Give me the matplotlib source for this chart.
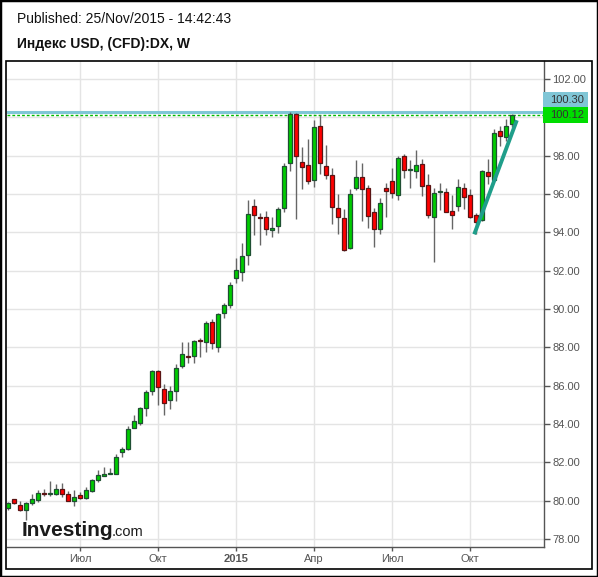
import numpy as np
import pandas as pd
import matplotlib
matplotlib.use('Agg')
import matplotlib.pyplot as plt
import matplotlib.transforms as mtransforms
from matplotlib.patches import Rectangle

plt.rcParams['font.family'] = ['Liberation Sans', 'DejaVu Sans']

# weekly candles, weeks start on Sunday
first_week = '2014-04-13'
opens = [79.60, 80.07, 79.76, 79.50, 79.86, 80.05, 80.40, 80.36, 80.36, 80.59,
         80.38, 80.00, 80.28, 80.15, 80.52, 81.09, 81.30, 81.42, 81.40, 82.55,
         82.70, 83.82, 84.08, 84.86, 85.74, 86.75, 85.85, 85.27, 85.74, 87.04,
         87.57, 87.57, 88.37, 88.29, 89.33, 88.01, 89.80, 90.22, 91.61, 91.92,
         92.80, 95.37, 94.80, 94.80, 94.10, 94.32, 95.27, 97.64, 100.17, 97.66,
         97.51, 96.73, 99.54, 97.46, 97.00, 95.27, 94.75, 93.19, 96.29, 96.88,
         96.31, 95.06, 94.18, 96.31, 96.67, 95.95, 97.98, 97.24, 97.20, 97.56,
         96.47, 94.79, 96.10, 96.09, 95.10, 95.36, 96.30, 95.93, 94.89, 94.63,
         97.13, 96.72, 99.27, 98.96, 99.64]
highs = [79.95, 80.10, 79.98, 79.95, 80.38, 80.55, 80.59, 81.02, 80.87, 80.92,
         80.50, 80.55, 80.45, 80.70, 81.16, 81.59, 81.77, 81.70, 82.46, 82.80,
         83.92, 84.46, 84.89, 85.76, 86.84, 86.82, 86.07, 85.97, 87.15, 88.26,
         88.29, 88.40, 88.47, 89.39, 89.49, 89.82, 90.32, 91.42, 92.67, 93.45,
         95.70, 95.74, 95.01, 95.12, 94.80, 95.34, 97.63, 100.30, 100.25, 98.46,
         98.88, 99.87, 100.11, 98.56, 97.35, 96.01, 95.22, 96.26, 97.78, 97.63,
         96.48, 95.29, 95.80, 96.57, 97.35, 97.99, 98.08, 97.77, 98.29, 97.82,
         97.04, 96.30, 96.56, 96.30, 95.95, 96.80, 96.56, 96.25, 95.00, 97.25,
         97.81, 99.38, 99.56, 99.91, 100.15]
lows = [79.50, 79.85, 79.45, 78.99, 79.80, 79.93, 80.25, 80.27, 80.30, 80.21,
        79.98, 79.74, 80.10, 80.10, 80.45, 81.00, 81.27, 81.38, 81.38, 82.29,
        82.64, 83.80, 83.96, 84.42, 85.51, 85.00, 84.47, 84.79, 85.20, 86.94,
        87.18, 87.18, 87.49, 87.75, 87.91, 87.75, 89.54, 90.06, 91.34, 91.45,
        92.28, 93.88, 93.32, 93.88, 93.74, 93.98, 95.04, 97.21, 94.68, 96.24,
        96.52, 96.39, 97.07, 96.81, 94.42, 93.90, 93.05, 93.15, 96.19, 94.57,
        94.21, 93.22, 93.90, 94.78, 95.82, 95.67, 96.86, 96.31, 96.83, 95.89,
        94.75, 92.45, 95.17, 95.05, 94.16, 95.13, 95.23, 94.75, 93.90, 94.60,
        96.51, 96.70, 98.49, 98.75, 99.51]
closes = [79.86, 79.88, 79.50, 79.91, 80.07, 80.40, 80.34, 80.40, 80.59, 80.36,
          80.00, 80.22, 80.15, 80.54, 81.06, 81.33, 81.38, 81.45, 82.31, 82.72,
          83.73, 84.18, 84.82, 85.70, 86.75, 85.93, 85.12, 85.74, 86.94, 87.67,
          87.50, 88.35, 88.33, 89.28, 88.24, 89.75, 90.22, 91.26, 92.04, 92.77,
          94.96, 94.90, 94.74, 94.16, 94.23, 95.22, 97.46, 100.20, 98.01, 97.40,
          96.67, 99.49, 97.61, 96.99, 95.32, 94.80, 93.08, 96.00, 96.88, 96.26,
          94.85, 94.18, 95.53, 96.15, 96.05, 97.87, 97.25, 97.29, 97.51, 96.41,
          94.90, 96.04, 96.15, 95.08, 94.92, 96.35, 95.86, 94.79, 94.52, 97.19,
          96.92, 99.17, 99.01, 99.53, 100.12]

resistance = 100.30
last_price = 100.12
# hand drawn trend line (candle index, price)
trend_x = [77.7, 84.8]
trend_y = [93.9, 99.85]
quarter_names = {4: 'Апр', 7: 'Июл', 10: 'Окт'}

dates = pd.date_range(first_week, periods=len(closes), freq='W-SUN')
x = np.arange(len(closes))
o = np.array(opens)
c = np.array(closes)

W, H = 598, 577
fig = plt.figure(figsize=(W / 100, H / 100), dpi=100)
ax = fig.add_axes([7 / W, 1 - 547 / H, 537 / W, 486 / H])
ax.set_xlim(-0.17, 89.33)
ax.set_ylim(77.59, 102.94)

# grid + axes
yt = np.arange(78, 103, 2)
ax.set_yticks(yt)
ax.set_yticklabels(['' if v == 100 else f'{v:.2f}' for v in yt])
ax.yaxis.tick_right()

tick_pos, tick_lab = [], []
for i in range(1, len(dates)):
    m = dates[i].month
    if m != dates[i - 1].month and m in (1, 4, 7, 10):
        tick_pos.append(i)
        tick_lab.append(str(dates[i].year) if m == 1 else quarter_names[m])
ax.set_xticks(tick_pos)
ax.set_xticklabels(tick_lab)
for lab in ax.get_xticklabels():
    if lab.get_text().isdigit():
        lab.set_fontweight('bold')
        lab.set_color('#444444')

ax.grid(True, color='#e4e4e4', lw=1)
ax.set_axisbelow(True)
for s in ['left', 'top']:
    ax.spines[s].set_visible(False)
for s in ['right', 'bottom']:
    ax.spines[s].set_color('#555555')
    ax.spines[s].set_linewidth(1)
ax.tick_params(axis='y', direction='out', length=4, width=1, color='#555555',
               labelsize=8, labelcolor='#555555', pad=2)
ax.tick_params(axis='x', direction='out', length=3, width=1, color='#555555',
               labelsize=8, labelcolor='#555555', pad=2)

# lines
ax.axhline(resistance, color='#80c6d6', lw=2.2, zorder=1.5)
ax.axhline(last_price, color='#00bb00', lw=1, ls=(0, (2, 1.5)), zorder=1.6)

# candles
up = c >= o
fill = np.where(up, '#00cc00', '#ff0000')
edge = np.where(up, '#1f4f33', '#5a1414')
body_bottom = np.minimum(o, c)
body_h = np.maximum(np.abs(c - o), 0.04)
ax.vlines(x, lows, highs, color='#666666', lw=1, zorder=2)
ax.bar(x, body_h, bottom=body_bottom, width=0.62, color=fill, edgecolor=edge,
       linewidth=0.9, zorder=3)

ax.plot(trend_x, trend_y, color='#1f9e8a', lw=2.8, solid_capstyle='butt', zorder=5)

# price labels on the right
trans = mtransforms.blended_transform_factory(ax.transAxes, ax.transData)
box_w = 45 / 537
box_h = 0.81
ax.add_patch(Rectangle((0.998, last_price - box_h / 2), box_w, box_h, transform=trans,
                       clip_on=False, fc='#00dd00', ec='none', zorder=6))
ax.text(1.0 + 6 / 537, last_price, f'{last_price:.2f}', transform=trans, va='center',
        ha='left', fontsize=8, color='#333333', zorder=7)
ax.add_patch(Rectangle((0.998, last_price + box_h / 2), box_w, box_h, transform=trans,
                       clip_on=False, fc='#80c6d6', ec='none', zorder=6))
ax.text(1.0 + 6 / 537, last_price + box_h, f'{resistance:.2f}', transform=trans,
        va='center', ha='left', fontsize=8, color='#333333', zorder=7)

# header
fig.text(17 / W, 1 - 19 / H, 'Published: 25/Nov/2015 - 14:42:43', fontsize=10,
         va='center', color='#111111')
fig.text(17 / W, 1 - 44 / H, 'Индекс USD, (CFD):DX, W', fontsize=10,
         fontweight='bold', va='center', color='#111111')

# logo
fig.text(22 / W, 1 - 536 / H, 'Investing', fontsize=15, fontweight='bold',
         va='baseline', color='#1a1a1a')
fig.text(112 / W, 1 - 536 / H, '.com', fontsize=10.5, va='baseline', color='#1a1a1a')

# frames
fig.patches.append(Rectangle((6 / W, 1 - 569 / H), 585.5 / W, 508 / H,
                             transform=fig.transFigure, fill=False, ec='black', lw=1.2))
fig.patches.append(Rectangle((0, 0), 1, 1, transform=fig.transFigure, fill=False,
                             ec='black', lw=2.5))

fig.savefig('out.png', dpi=100)
